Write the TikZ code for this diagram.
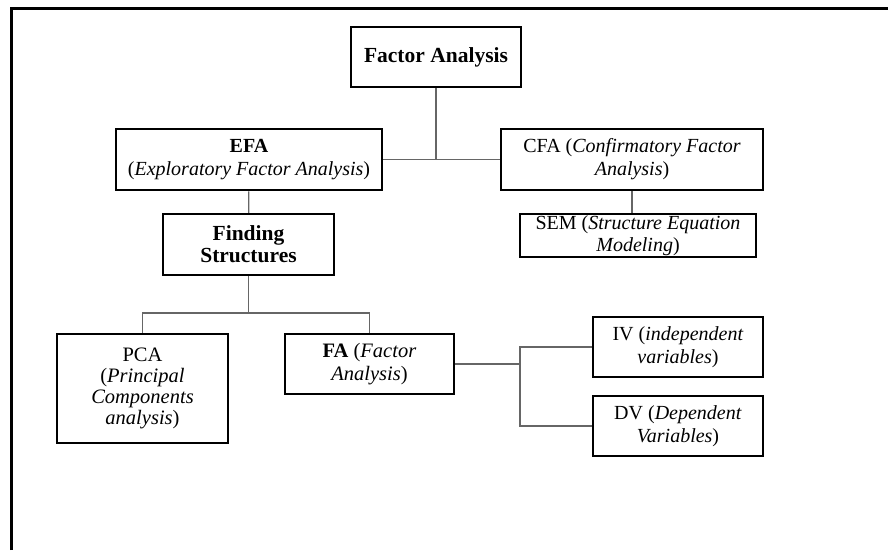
\documentclass[tikz,border=0pt]{standalone}
\usepackage{fontspec}
\setmainfont{Liberation Serif}
\begin{document}
\begin{tikzpicture}[x=1pt,y=-1pt,
  box/.style={draw=black, line width=2.5pt, align=center, inner sep=0pt,
    font=\fontsize{20}{23}\selectfont},
  link/.style={draw=black!60, line width=1.2pt}]
\useasboundingbox (0,0) rectangle (888,550);
% frame
\draw[line width=3pt] (11,550) -- (11,8) -- (888,8);

% boxes
\node[box, minimum width=170, minimum height=60, font=\fontsize{21.5}{24}\selectfont] (fa) at (436,57) {\textbf{Factor Analysis}};
\node[box, minimum width=266, minimum height=61] (efa) at (249,159.5)
  {\textbf{EFA}\\(\textit{Exploratory Factor Analysis})};
\node[box, minimum width=262, minimum height=61] (cfa) at (632,159.5)
  {CFA (\textit{Confirmatory Factor}\\\textit{Analysis})};
\node[box, minimum width=171, minimum height=61, font=\fontsize{21.5}{22}\selectfont] (fs) at (248.5,244.5)
  {\textbf{Finding}\\\textbf{Structures}};
\node[box, minimum width=236, minimum height=43, font=\fontsize{20}{22}\selectfont] (sem) at (638,235.5)
  {SEM (\textit{Structure Equation}\\\textit{Modeling})};
\node[box, minimum width=171, minimum height=109, font=\fontsize{20.5}{21}\selectfont] (pca) at (142.5,388.5)
  {PCA\\(\textit{Principal}\\\textit{Components}\\\textit{analysis})};
\node[box, minimum width=169, minimum height=60, font=\fontsize{20.5}{23}\selectfont] (fa2) at (369.5,364)
  {\textbf{FA} (\textit{Factor}\\\textit{Analysis})};
\node[box, minimum width=170, minimum height=60] (iv) at (678,347)
  {IV (\textit{independent}\\\textit{variables})};
\node[box, minimum width=170, minimum height=60] (dv) at (678,426)
  {DV (\textit{Dependent}\\\textit{Variables})};

% junction points
\coordinate (j1) at (fa.south |- efa.east);
\coordinate (busL) at (pca.north |- 0,313);
\coordinate (busR) at (fa2.north |- 0,313);
\coordinate (busC) at (fs.south |- 0,313);
\coordinate (jv) at (520,0 |- fa2.east);

% connectors
\draw[link] (fa) -- (j1);
\draw[link] (efa) -- (cfa);
\draw[link] (efa) -- (fs);
\draw[link] (cfa.south) -- (cfa.south |- sem.north);
\draw[link] (fs) -- (busC);
\draw[link] (pca) -- (busL) -- (busR) -- (fa2);
\draw[link] (fa2) -- (jv);
\draw[link] (iv.west) -| (jv) |- (dv.west);
\end{tikzpicture}
\end{document}
